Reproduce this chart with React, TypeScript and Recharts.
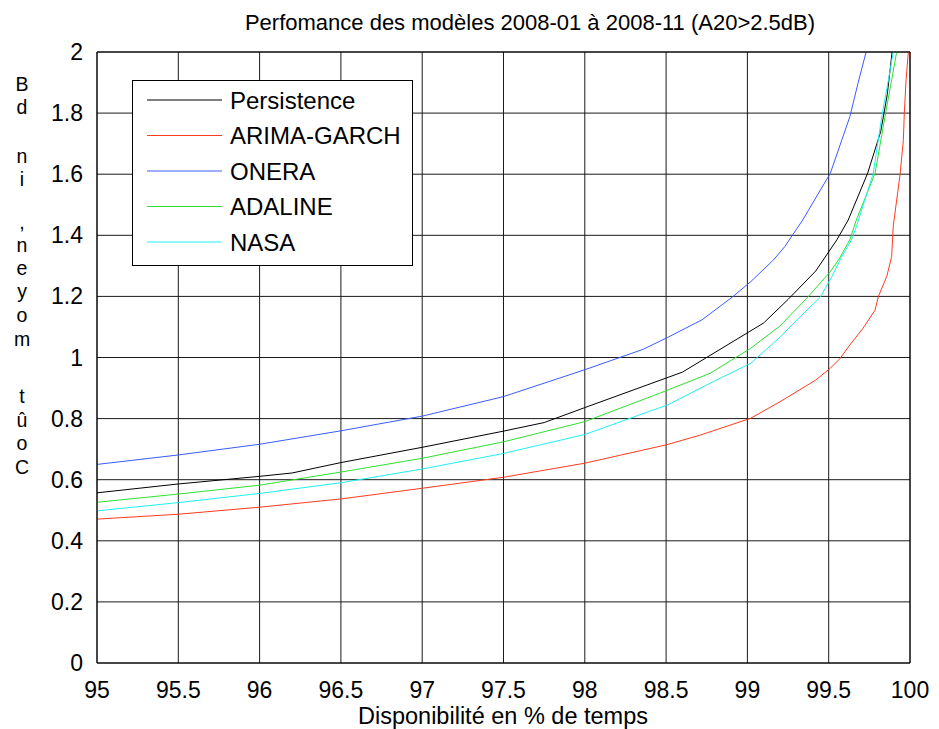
import { LineChart, Line, XAxis, YAxis, CartesianGrid } from "recharts";

const X_TICKS = [95, 95.5, 96, 96.5, 97, 97.5, 98, 98.5, 99, 99.5, 100];
const Y_TICKS = [0, 0.2, 0.4, 0.6, 0.8, 1, 1.2, 1.4, 1.6, 1.8, 2];

const persistenceX = [95, 95.5, 96, 96.2, 96.5, 97, 97.5, 97.75, 98, 98.6, 99.1, 99.25, 99.42, 99.55, 99.62, 99.74, 99.82, 99.86, 99.89];
const persistenceY = [0.557, 0.586, 0.611, 0.622, 0.656, 0.706, 0.759, 0.787, 0.836, 0.952, 1.113, 1.19, 1.283, 1.385, 1.45, 1.604, 1.74, 1.86, 2.0];

const arimaX = [95, 95.5, 96, 96.5, 97, 97.5, 98, 98.5, 98.71, 99.02, 99.2, 99.42, 99.51, 99.57, 99.63, 99.71, 99.785, 99.805, 99.857, 99.887, 99.897, 99.939, 99.959, 99.965, 99.976, 99.99];
const arimaY = [0.471, 0.487, 0.51, 0.537, 0.572, 0.608, 0.654, 0.714, 0.746, 0.801, 0.855, 0.926, 0.965, 0.997, 1.041, 1.095, 1.155, 1.199, 1.265, 1.33, 1.43, 1.6, 1.71, 1.8, 1.91, 2.0];

const oneraX = [95, 95.5, 96, 96.5, 97, 97.5, 98, 98.36, 98.51, 98.72, 98.91, 99.02, 99.16, 99.23, 99.34, 99.51, 99.63, 99.68, 99.73];
const oneraY = [0.65, 0.681, 0.716, 0.76, 0.808, 0.872, 0.96, 1.027, 1.066, 1.123, 1.199, 1.248, 1.319, 1.363, 1.45, 1.603, 1.788, 1.897, 2.0];

const adalineX = [95, 95.5, 96, 96.5, 97, 97.5, 98, 98.46, 98.77, 99.02, 99.2, 99.365, 99.51, 99.56, 99.63, 99.67, 99.785, 99.846, 99.887, 99.918];
const adalineY = [0.526, 0.553, 0.582, 0.625, 0.67, 0.724, 0.79, 0.883, 0.948, 1.03, 1.103, 1.194, 1.281, 1.319, 1.385, 1.45, 1.603, 1.788, 1.908, 2.0];

const nasaX = [95, 95.5, 96, 96.5, 97, 97.5, 98, 98.51, 98.79, 99.02, 99.2, 99.28, 99.45, 99.52, 99.58, 99.64, 99.67, 99.774, 99.826, 99.867, 99.897];
const nasaY = [0.498, 0.525, 0.555, 0.59, 0.635, 0.686, 0.748, 0.845, 0.921, 0.981, 1.066, 1.11, 1.199, 1.265, 1.33, 1.385, 1.428, 1.603, 1.788, 1.908, 2.0];

const SERIES = [
  { name: "Persistence", xs: persistenceX, ys: persistenceY, color: "#000000" },
  { name: "ARIMA-GARCH", xs: arimaX, ys: arimaY, color: "#ff3b1f" },
  { name: "ONERA", xs: oneraX, ys: oneraY, color: "#3a5cff" },
  { name: "ADALINE", xs: adalineX, ys: adalineY, color: "#2ee02e" },
  { name: "NASA", xs: nasaX, ys: nasaY, color: "#1ef0f0" },
];

// y label is drawn as stacked characters, reversed (as in the original figure)
const Y_LABEL_CHARS = [
  ["B", 91], ["d", 114], ["n", 163], ["i", 186], [",", 229], ["n", 252], ["e", 275],
  ["y", 298], ["o", 322], ["m", 346], ["t", 403], ["û", 427], ["o", 450], ["C", 474],
];

const FONT = "'Liberation Sans', Arial, Helvetica, sans-serif";

const XTick = ({ x, y, payload }: any) => (
  <text x={x} y={y + 27} textAnchor="middle" fontSize={23} fontFamily={FONT} fill="#000">
    {payload.value}
  </text>
);

const YTick = ({ x, y, payload }: any) => (
  <text x={x - 6} y={y + 8} textAnchor="end" fontSize={23} fontFamily={FONT} fill="#000">
    {payload.value}
  </text>
);

export default function App() {
  return (
    <div style={{ position: "absolute", left: 0, top: 0, width: 939, height: 729, background: "#fff" }}>
      <LineChart width={939} height={729} margin={{ top: 52, right: 29, bottom: 36, left: 0 }}>
        <CartesianGrid stroke="#1a1a1a" strokeWidth={1} horizontalValues={Y_TICKS} verticalValues={X_TICKS} />
        <XAxis
          type="number"
          dataKey="x"
          domain={[95, 100]}
          ticks={X_TICKS}
          allowDataOverflow
          height={30}
          tickLine={false}
          axisLine={{ stroke: "#000" }}
          tick={<XTick />}
          interval={0}
        />
        <YAxis
          type="number"
          dataKey="y"
          domain={[0, 2]}
          ticks={Y_TICKS}
          allowDataOverflow
          width={97}
          tickLine={false}
          axisLine={{ stroke: "#000" }}
          tick={<YTick />}
          interval={0}
        />
        {SERIES.map((s) => (
          <Line
            key={s.name}
            data={s.xs.map((x, i) => ({ x, y: s.ys[i] }))}
            dataKey="y"
            name={s.name}
            stroke={s.color}
            strokeWidth={1}
            dot={false}
            activeDot={false}
            isAnimationActive={false}
          />
        ))}
      </LineChart>
      <svg
        width={939}
        height={729}
        style={{ position: "absolute", left: 0, top: 0, pointerEvents: "none" }}
      >
        <line x1={97} x2={910} y1={52} y2={52} stroke="#000" />
        <line x1={910} x2={910} y1={52} y2={663} stroke="#000" />
        <g transform="translate(132,80)">
          <rect x={0.5} y={0.5} width={280} height={185} fill="#fff" stroke="#000" />
          {SERIES.map((s, i) => (
            <g key={s.name}>
              <line x1={15} x2={90} y1={20 + i * 35.5} y2={20 + i * 35.5} stroke={s.color} strokeWidth={1} />
              <text x={98} y={28.5 + i * 35.5} fontSize={24} fontFamily={FONT} fill="#000">
                {s.name}
              </text>
            </g>
          ))}
        </g>
        <text x={530} y={30} textAnchor="middle" fontSize={22} fontFamily={FONT} fill="#000">
          Perfomance des modèles 2008-01 à 2008-11 (A20&gt;2.5dB)
        </text>
        <text x={503} y={724} textAnchor="middle" fontSize={23.5} fontFamily={FONT} fill="#000">
          Disponibilité en % de temps
        </text>
        <text textAnchor="middle" fontSize={19.5} fontFamily={FONT} fill="#000">
          {Y_LABEL_CHARS.map(([ch, y], i) => (
            <tspan key={i} x={22} y={y as number}>
              {ch}
            </tspan>
          ))}
        </text>
      </svg>
    </div>
  );
}
